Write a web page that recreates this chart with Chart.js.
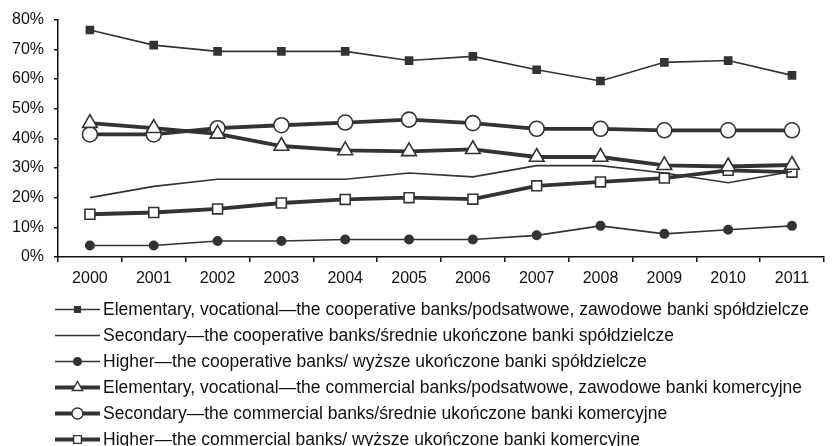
<!DOCTYPE html>
<html>
<head>
<meta charset="utf-8">
<script src="https://cdn.jsdelivr.net/npm/chart.js@4/dist/chart.umd.min.js"></script>
<style>
  html, body { margin: 0; padding: 0; background: #fff; }
  #wrap { width: 834px; height: 446px; }
</style>
</head>
<body>
<div id="wrap"><canvas id="c" width="834" height="446"></canvas></div>
<script>
const years = ['2000','2001','2002','2003','2004','2005','2006','2007','2008','2009','2010','2011'];
const yTicks = [0, 10, 20, 30, 40, 50, 60, 70, 80];

const elemCoop = [76.5, 71.4, 69.3, 69.3, 69.3, 66.2, 67.6, 63.1, 59.3, 65.6, 66.2, 61.2];
const secCoop  = [20.0, 23.8, 26.2, 26.2, 26.2, 28.3, 27.0, 30.8, 30.8, 28.3, 25.0, 28.8];
const highCoop = [3.9, 3.9, 5.4, 5.4, 5.9, 5.9, 5.9, 7.3, 10.5, 7.8, 9.2, 10.5];
const elemComm = [45.1, 43.4, 41.5, 37.4, 35.9, 35.6, 36.3, 33.7, 33.7, 30.9, 30.5, 31.0];
const secComm  = [41.3, 41.3, 43.4, 44.4, 45.3, 46.3, 45.1, 43.2, 43.2, 42.7, 42.7, 42.7];
const highComm = [14.4, 15.0, 16.2, 18.2, 19.4, 20.0, 19.5, 24.0, 25.3, 26.6, 29.2, 28.6];

const labels = [
  'Elementary, vocational\u2014the cooperative banks/podsatwowe, zawodowe banki sp\u00f3\u0142dzielcze',
  'Secondary\u2014the cooperative banks/\u015brednie uko\u0144czone banki sp\u00f3\u0142dzielcze',
  'Higher\u2014the cooperative banks/ wy\u017csze uko\u0144czone banki sp\u00f3\u0142dzielcze',
  'Elementary, vocational\u2014the commercial banks/podsatwowe, zawodowe banki komercyjne',
  'Secondary\u2014the commercial banks/\u015brednie uko\u0144czone banki komercyjne',
  'Higher\u2014the commercial banks/ wy\u017csze uko\u0144czone banki komercyjne'
];

const INK = '#333333';
const FONT = "'Liberation Sans', Arial, sans-serif";

function ds(label, data, width, style, radius, fill, legendRadius) {
  return {
    label, data,
    borderColor: INK, borderWidth: width,
    pointStyle: style || false,
    pointRadius: style ? radius : 0,
    pointHoverRadius: style ? radius : 0,
    pointBackgroundColor: fill,
    pointBorderColor: INK,
    pointBorderWidth: 1.6,
    tension: 0,
    fill: false,
    legendRadius
  };
}

const datasets = [
  ds(labels[0], elemCoop, 1.6, 'rect', 5, INK, 4),
  ds(labels[1], secCoop, 1.6, null, 0, INK, 0),
  ds(labels[2], highCoop, 1.6, 'circle', 4.2, INK, 3.8),
  ds(labels[3], elemComm, 3.8, 'triangle', 8.5, '#ffffff', 6),
  ds(labels[4], secComm, 3.8, 'circle', 7.5, '#ffffff', 5.5),
  ds(labels[5], highComm, 3.8, 'rect', 7, '#ffffff', 5.5)
];

function drawMarker(ctx, style, x, y, r, fill) {
  ctx.save();
  ctx.fillStyle = fill;
  ctx.strokeStyle = INK;
  ctx.lineWidth = 1.4;
  ctx.beginPath();
  if (style === 'rect') {
    const s = r * Math.SQRT1_2;
    ctx.rect(x - s, y - s, 2 * s, 2 * s);
  } else if (style === 'circle') {
    ctx.arc(x, y, r, 0, Math.PI * 2);
  } else if (style === 'triangle') {
    ctx.moveTo(x, y - r);
    ctx.lineTo(x + r * Math.sqrt(3) / 2, y + r / 2);
    ctx.lineTo(x - r * Math.sqrt(3) / 2, y + r / 2);
    ctx.closePath();
  }
  ctx.fill();
  ctx.stroke();
  ctx.restore();
}

const legendPlugin = {
  id: 'lineLegend',
  afterDraw(chart) {
    const ctx = chart.ctx;
    const x0 = 55, x1 = 100, tx = 103;
    const yStart = 309.5, dy = 26;
    chart.data.datasets.forEach((d, i) => {
      const y = yStart + i * dy;
      ctx.save();
      ctx.strokeStyle = INK;
      ctx.lineWidth = d.borderWidth;
      ctx.beginPath();
      ctx.moveTo(x0, y);
      ctx.lineTo(x1, y);
      ctx.stroke();
      ctx.restore();
      if (d.pointStyle) drawMarker(ctx, d.pointStyle, (x0 + x1) / 2, y, d.legendRadius, d.pointBackgroundColor);
      ctx.save();
      ctx.fillStyle = '#111';
      ctx.font = '17.5px ' + FONT;
      ctx.textBaseline = 'middle';
      ctx.textAlign = 'left';
      ctx.fillText(d.label, tx, y + 1);
      ctx.restore();
    });
  }
};

new Chart(document.getElementById('c'), {
  type: 'line',
  data: { labels: years, datasets },
  plugins: [legendPlugin],
  options: {
    responsive: false,
    animation: false,
    events: [],
    layout: { padding: { left: 0, right: 0, top: 19, bottom: 159 } },
    plugins: { legend: { display: false }, tooltip: { enabled: false } },
    scales: {
      x: {
        type: 'category',
        offset: true,
        grid: { display: true, drawOnChartArea: false, drawTicks: true, tickLength: 5, color: '#111', offset: true, lineWidth: 1.5 },
        border: { display: true, color: '#111', width: 1.5 },
        ticks: { color: '#111', font: { family: FONT, size: 16 }, padding: 7, maxRotation: 0, autoSkip: false },
        afterFit(scale) { scale.height = 30; }
      },
      y: {
        min: 0, max: 80,
        afterBuildTicks(scale) { scale.ticks = yTicks.map(v => ({ value: v })); },
        grid: { display: true, drawOnChartArea: false, drawTicks: true, tickLength: 4, color: '#111', lineWidth: 1.5 },
        border: { display: true, color: '#111', width: 1.5 },
        ticks: { color: '#111', font: { family: FONT, size: 16 }, padding: 10, callback: v => v + '%' },
        afterFit(scale) { scale.width = 58; }
      }
    }
  }
});
</script>
</body>
</html>
